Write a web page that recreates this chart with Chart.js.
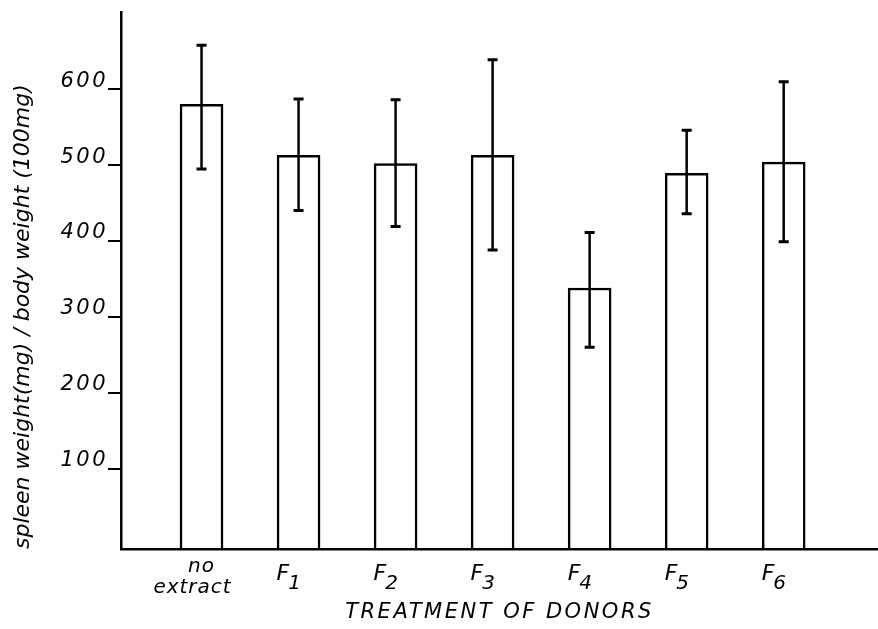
<!DOCTYPE html>
<html>
<head>
<meta charset="utf-8">
<script src="https://cdn.jsdelivr.net/npm/chart.js@4"></script>
<style>
  html, body { margin: 0; padding: 0; background: #fff; }
  canvas { display: block; }
</style>
</head>
<body>
<canvas id="chart" width="878" height="629"></canvas>
<script>
// values
const categories = ['no extract', 'F1', 'F2', 'F3', 'F4', 'F5', 'F6'];
const means = [580, 513, 502, 513, 338, 489, 504];
const errHigh = [658, 587, 586, 639, 411, 546, 610];
const errLow = [495, 440, 419, 388, 260, 436, 399];
const yTicks = [100, 200, 300, 400, 500, 600];

const FONT = 'DejaVu Sans';

// error bars + category labels
// layers drawn before the datasets (x title, y ticks) get the wide letter spacing
// of the scanned figure, the ones after (y title) get none
const drawExtras = {
  id: 'drawExtras',
  beforeDraw(c) {
    c.ctx.letterSpacing = '2.5px';
  },
  beforeDatasetsDraw(c) {
    c.ctx.letterSpacing = '0px';
  },
  afterDatasetsDraw(c) {
    const ctx = c.ctx;
    const xs = c.scales.x;
    const ys = c.scales.y;
    ctx.save();
    ctx.strokeStyle = '#000';
    ctx.fillStyle = '#000';
    categories.forEach((cat, i) => {
      const px = xs.getPixelForValue(i + 1);
      const top = ys.getPixelForValue(errHigh[i]);
      const bot = ys.getPixelForValue(errLow[i]);
      ctx.lineWidth = 2.5;
      ctx.beginPath();
      ctx.moveTo(px, top);
      ctx.lineTo(px, bot);
      ctx.stroke();
      ctx.lineWidth = 3;
      ctx.beginPath();
      ctx.moveTo(px - 5, top);
      ctx.lineTo(px + 5, top);
      ctx.moveTo(px - 5, bot);
      ctx.lineTo(px + 5, bot);
      ctx.stroke();

      // category label, F with a lowered index
      ctx.letterSpacing = '1px';
      const m = cat.match(/^F(\d)$/);
      if (m) {
        ctx.textAlign = 'left';
        ctx.font = 'italic 22px "' + FONT + '"';
        const lx = px - 22;
        ctx.fillText('F', lx, 580);
        const w = ctx.measureText('F').width;
        ctx.font = 'italic 20px "' + FONT + '"';
        ctx.fillText(m[1], lx + w - 2, 589);
      } else {
        const parts = cat.split(' ');
        ctx.textAlign = 'center';
        ctx.font = 'italic 20px "' + FONT + '"';
        ctx.fillText(parts[0], px, 572);
        ctx.fillText(parts[1], px - 9, 593);
      }
    });
    ctx.restore();
    ctx.letterSpacing = '0px';
  },
  afterDraw(c) {
    c.ctx.letterSpacing = '0px';
  }
};

new Chart(document.getElementById('chart'), {
  type: 'bar',
  data: {
    datasets: [{
      data: categories.map((c, i) => ({ x: i + 1, y: means[i] })),
      backgroundColor: '#fff',
      borderColor: '#000',
      borderWidth: 2.5,
      barThickness: 43,
      base: -6
    }]
  },
  options: {
    responsive: false,
    animation: false,
    devicePixelRatio: 1,
    layout: { padding: { top: 10, left: 0, right: 0, bottom: 0 } },
    plugins: {
      legend: { display: false },
      tooltip: { enabled: false }
    },
    scales: {
      x: {
        type: 'linear',
        offset: false,
        min: 0.17,
        max: 7.972,
        grid: { display: false, z: -1 },
        border: { color: '#000', width: 2.5, z: 1 },
        ticks: { display: false },
        title: {
          display: true,
          text: 'TREATMENT OF DONORS',
          color: '#000',
          font: { family: FONT, size: 21, style: 'italic' },
          padding: { top: 0, bottom: 4 }
        },
        afterFit: s => { s.height = 80; }
      },
      y: {
        min: -6,
        max: 701,
        afterBuildTicks: s => { s.ticks = yTicks.map(v => ({ value: v })); },
        grid: { drawOnChartArea: false, drawTicks: true, tickLength: 13, color: '#000', lineWidth: 2, z: 1 },
        border: { color: '#000', width: 2.5, z: 1 },
        ticks: {
          color: '#000',
          padding: 0,
          labelOffset: -8,
          font: { family: FONT, size: 21, style: 'italic' }
        },
        title: {
          display: true,
          text: 'spleen weight(mg) / body weight (100mg)',
          align: 'start',
          color: '#000',
          font: { family: FONT, size: 22, style: 'italic' },
          padding: { top: 10, bottom: 0 }
        },
        afterFit: s => { s.width = 121; }
      }
    }
  },
  plugins: [drawExtras]
});
</script>
</body>
</html>
